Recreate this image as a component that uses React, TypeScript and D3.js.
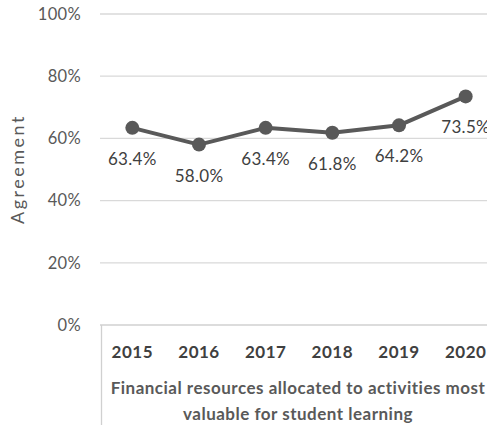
import React from 'react'
import * as d3 from 'd3'

const years = ['2015', '2016', '2017', '2018', '2019', '2020']
const agreement = [63.4, 58.0, 63.4, 61.8, 64.2, 73.5]
const yTicks = [0, 20, 40, 60, 80, 100]
const titleLines = ['Financial resources allocated to activities most', 'valuable for student learning']

const width = 487
const height = 425
const plot = { top: 14, bottom: 325, left: 100, right: 487 }
const font = 'Lato, "Open Sans", sans-serif'

export default function App() {
  const xScale = d3.scaleBand<string>()
    .domain(years)
    .range([99, 499]) // plot runs off the right edge
    .padding(0)

  const yScale = d3.scaleLinear()
    .domain([0, 100])
    .range([plot.bottom, plot.top])

  const cx = (y: string) => (xScale(y) || 0) + xScale.bandwidth() / 2

  const line = d3.line<number>()
    .x((d, i) => cx(years[i]))
    .y(d => yScale(d))

  // gridlines + tick labels
  const grid = yTicks.map(t => (
    <g key={'g' + t}>
      <line
        x1={plot.left} x2={plot.right}
        y1={yScale(t)} y2={yScale(t)}
        stroke={t === 0 ? '#d0d0d0' : '#d9d9d9'} strokeWidth={1.3}
      />
      <text
        x={81} y={yScale(t)} dy='0.35em'
        textAnchor='end' fontSize={16.5} fill='#595959' letterSpacing={0.3}
      >
        {t}%
      </text>
    </g>
  ))

  const dots = agreement.map((v, i) => (
    <g key={'d' + i}>
      <circle cx={cx(years[i])} cy={yScale(v)} r={7} fill='#595959' />
      <text
        x={cx(years[i])} y={yScale(v) + 31} dy='0.35em'
        textAnchor='middle' fontSize={17} fill='#404040' letterSpacing={0.3}
      >
        {v.toFixed(1)}%
      </text>
    </g>
  ))

  const yearLabels = years.map(y => (
    <text
      key={'y' + y}
      x={cx(y)} y={352} dy='0.35em'
      textAnchor='middle' fontSize={17} fontWeight='bold' fill='#404040' letterSpacing={0.5}
    >
      {y}
    </text>
  ))

  return (
    <div style={{ position: 'absolute', left: 0, top: 0 }}>
      <svg width={width} height={height} style={{ display: 'block', fontFamily: font }}>
        <rect width={width} height={height} fill='#fff' />

        {grid}

        {/* category box edge */}
        <line x1={101.5} x2={101.5} y1={plot.bottom} y2={height} stroke='#d0d0d0' strokeWidth={1.3} />

        <path
          d={line(agreement) || ''}
          fill='none' stroke='#595959' strokeWidth={4} strokeLinejoin='round'
        />
        {dots}

        {yearLabels}

        {titleLines.map((t, i) => (
          <text
            key={'t' + i}
            x={298} y={388 + i * 26} dy='0.35em'
            textAnchor='middle' fontSize={17} fontWeight='bold' fill='#595959' letterSpacing={0.5}
          >
            {t}
          </text>
        ))}

        <text
          x={-169} y={18} dy='0.35em'
          transform='rotate(-90)'
          textAnchor='middle' fontSize={18} fill='#595959' letterSpacing={2.5}
        >
          Agreement
        </text>
      </svg>
    </div>
  )
}
